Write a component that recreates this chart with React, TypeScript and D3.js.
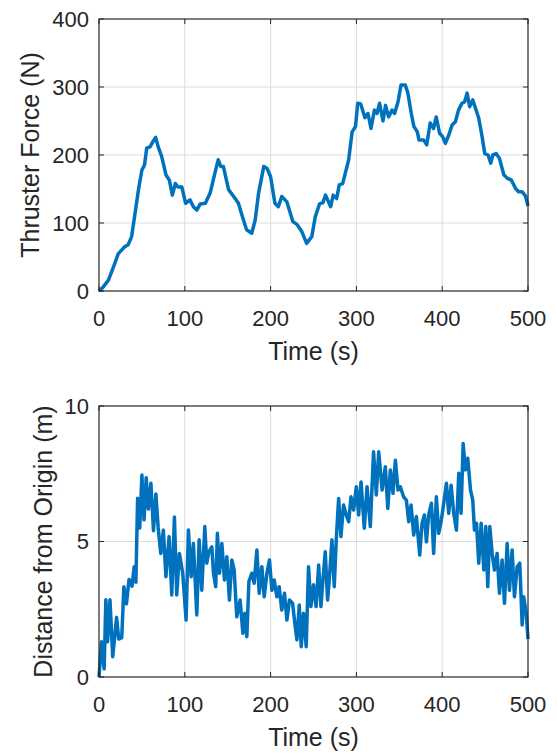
import React from "react";
import * as d3 from "d3";

// thruster force (N)
const forceTime = [0, 1, 5, 11, 17, 22.5, 30, 34, 38, 42, 46, 50, 53, 55.6, 59.5, 63, 66, 69, 73, 78, 82, 85.5, 89, 92, 96.5, 101, 106, 110, 114, 118, 124, 129.5, 135, 139, 142, 145, 151, 157, 162.5, 167, 172, 178, 182, 186, 192, 196, 200, 205, 209, 213, 219, 226, 230.7, 236.5, 242, 248, 252, 257, 261, 264, 270, 273, 277, 280, 284, 287, 291, 295, 299, 301.5, 305, 310, 313.5, 317, 321, 324, 327, 331, 334, 337.5, 341.5, 344.5, 348.5, 352, 357, 360, 364, 367, 371, 373, 378.5, 382, 386, 390, 393, 397, 400.5, 403.7, 407.6, 411.5, 415.4, 419, 423, 426, 429, 432, 435.6, 439.5, 442.6, 446.5, 449.6, 453.5, 456.6, 459, 463, 466.7, 471.8, 475.7, 480.7, 485.4, 489, 493, 497, 500];
const force = [0, 1, 6, 16, 36, 55, 65, 68, 80, 114, 149, 178, 185, 210, 212, 220, 226, 212, 198, 171, 163, 141, 158, 153, 153, 129, 134, 124, 119, 128, 129, 144, 173, 193, 183, 183, 149, 139, 129, 110, 90, 85, 104, 144, 183, 180, 168, 129, 124, 139, 131, 102, 98, 87, 70, 80, 109, 128, 130, 141, 124, 141, 136, 156, 158, 173, 193, 234, 242, 276, 275, 255, 261, 239, 266, 261, 276, 250, 273, 256, 266, 261, 278, 303, 303, 291, 261, 242, 234, 222, 222, 215, 247, 239, 256, 232, 227, 217, 229, 244, 249, 266, 276, 278, 291, 271, 281, 266, 254, 227, 202, 200, 188, 200, 202, 195, 171, 166, 163, 151, 146, 146, 140, 125];

// distance from origin (m)
const distTime = [0, 3, 6, 8, 10, 12.8, 16, 20.5, 23, 26.5, 29, 32, 35, 38.5, 41, 43, 45, 47.5, 50, 52.5, 55, 57.5, 60.5, 63.5, 66.3, 69, 72, 75, 78, 81.7, 84.8, 87.9, 90.6, 93.7, 97.6, 101.5, 104.2, 107.4, 110, 114, 116.7, 119.8, 123.3, 125.6, 128, 131.5, 133.4, 136, 138, 140.4, 143.2, 146.2, 149, 152, 154.8, 157.5, 160.6, 164.5, 167.7, 170, 172.3, 174.7, 178.2, 180.9, 184, 186.7, 189.8, 192.5, 195.7, 198.7, 201.5, 204.2, 207.3, 210, 213, 216.2, 219, 222, 225.6, 228.7, 230.7, 233.4, 235.7, 238.4, 241.5, 244.2, 247, 250, 253, 256, 258.7, 261, 263.7, 266.4, 268.8, 271.5, 274.2, 276.5, 279.3, 282, 285, 288.2, 291, 293.7, 296.8, 299.9, 302.6, 305.4, 309.2, 312.4, 316.2, 320, 323.2, 326, 330, 333.7, 336.6, 339.6, 342.7, 345.4, 348.5, 351.2, 355, 358.2, 361, 363.7, 366.8, 369.9, 373.8, 376.5, 379.2, 381.6, 384.2, 387.4, 390, 393.2, 395.9, 399, 401.8, 404.9, 407.6, 410.4, 413.4, 416.6, 419.3, 422, 424.4, 427, 429.8, 433, 435.6, 437.6, 440, 442.6, 445.4, 448.5, 450.8, 453.1, 455.5, 458.2, 460.9, 464, 466.7, 469.8, 472.6, 475.7, 478.4, 481.5, 484.2, 487.4, 490.4, 493.2, 495, 497.9, 500];
const dist = [0, 1.3, 0.3, 2.85, 1.3, 2.85, 0.75, 2.2, 1.4, 1.45, 3.33, 2.7, 3.6, 3.35, 4.07, 3.5, 6.6, 5.5, 7.45, 5.8, 7.35, 6.2, 7.15, 5.4, 6.75, 5.5, 4.56, 5.42, 3.7, 5.18, 3.03, 5.9, 3.03, 4.56, 3.83, 2.1, 5.42, 3.7, 4.93, 2.29, 5.06, 3.2, 5.55, 4.2, 4.62, 4.8, 3.83, 3.33, 5.3, 3.83, 4.93, 3.58, 4.44, 2.84, 4.32, 3.95, 2.22, 2.84, 1.61, 2.35, 1.49, 3.52, 3.83, 3.46, 4.69, 3.09, 4.07, 2.96, 3.83, 4.32, 3.2, 3.58, 2.96, 3.33, 2.47, 3.09, 2.1, 2.84, 2.72, 1.86, 1.37, 2.66, 1.12, 2.35, 1.12, 4.07, 2.6, 3.4, 2.6, 4.13, 2.6, 3.58, 4.62, 2.84, 3.76, 5.06, 3.33, 5.06, 6.59, 5.18, 6.35, 5.98, 5.73, 6.65, 6.16, 7.02, 5.98, 7.2, 5.49, 7.02, 5.55, 8.31, 6.72, 8.31, 6.9, 7.76, 6.22, 7.64, 6.78, 8.0, 6.9, 7.02, 6.65, 6.53, 5.73, 6.35, 5.24, 5.92, 4.5, 5.67, 5.98, 4.99, 5.98, 6.41, 4.56, 6.65, 5.3, 5.79, 6.41, 7.15, 6.04, 7.08, 6.04, 5.42, 7.52, 6.04, 8.62, 7.64, 8.07, 6.9, 6.53, 5.42, 5.67, 4.2, 5.67, 3.95, 5.55, 3.33, 5.55, 4.56, 3.95, 4.56, 3.09, 4.32, 2.72, 4.93, 3.2, 4.69, 2.96, 4.07, 4.2, 1.92, 2.96, 2.35, 1.4];

const xTicks = [0, 100, 200, 300, 400, 500];
const forceTicks = [0, 100, 200, 300, 400];
const distTicks = [0, 5, 10];

const FONT = "'Liberation Sans', Arial, Helvetica, sans-serif";
const INK = "#262626";
const BLUE = "#0072BD";

function Panel({ t, v, yMax, yTicks, ylabel, top, bottom, ylabelX }) {
  const left = 99;
  const right = 528;
  const x = d3.scaleLinear().domain([0, 500]).range([left, right]);
  const y = d3.scaleLinear().domain([0, yMax]).range([bottom, top]);
  const line = d3
    .line<number>()
    .x((_, i) => x(t[i]))
    .y((d) => y(d));
  const tick = 5;
  const midY = (top + bottom) / 2;

  return (
    <g>
      {/* grid */}
      {xTicks.slice(1, -1).map((d) => (
        <line key={"gx" + d} x1={x(d)} x2={x(d)} y1={top} y2={bottom} stroke="#dcdcdc" strokeWidth={1} />
      ))}
      {yTicks.slice(1, -1).map((d) => (
        <line key={"gy" + d} x1={left} x2={right} y1={y(d)} y2={y(d)} stroke="#dcdcdc" strokeWidth={1} />
      ))}

      <path d={line(v) || ""} fill="none" stroke={BLUE} strokeWidth={3.5} strokeLinejoin="round" />

      {/* box + inward ticks */}
      <rect x={left} y={top} width={right - left} height={bottom - top} fill="none" stroke={INK} strokeWidth={1.2} />
      {xTicks.map((d) => (
        <g key={"tx" + d}>
          <line x1={x(d)} x2={x(d)} y1={bottom} y2={bottom - tick} stroke={INK} />
          <line x1={x(d)} x2={x(d)} y1={top} y2={top + tick} stroke={INK} />
          <text x={x(d)} y={bottom + 27} textAnchor="middle" dominantBaseline="central" fontSize={22} fill={INK}>
            {d}
          </text>
        </g>
      ))}
      {yTicks.map((d) => (
        <g key={"ty" + d}>
          <line x1={left} x2={left + tick} y1={y(d)} y2={y(d)} stroke={INK} />
          <line x1={right} x2={right - tick} y1={y(d)} y2={y(d)} stroke={INK} />
          <text x={left - 10} y={y(d)} textAnchor="end" dominantBaseline="central" fontSize={22} fill={INK}>
            {d}
          </text>
        </g>
      ))}

      <text x={(left + right) / 2} y={bottom + 60} textAnchor="middle" dominantBaseline="central" fontSize={25} fill={INK}>
        Time (s)
      </text>
      <text
        transform={`translate(${ylabelX},${midY}) rotate(-90)`}
        textAnchor="middle"
        dominantBaseline="central"
        fontSize={25}
        fill={INK}
      >
        {ylabel}
      </text>
    </g>
  );
}

export default function App() {
  return (
    <svg
      width={557}
      height={753}
      style={{ position: "absolute", left: 0, top: 0, background: "#fff" }}
      fontFamily={FONT}
    >
      <rect width={557} height={753} fill="#fff" />
      <Panel t={forceTime} v={force} yMax={400} yTicks={forceTicks} ylabel="Thruster Force (N)" top={19} bottom={291} ylabelX={30} />
      <Panel t={distTime} v={dist} yMax={10} yTicks={distTicks} ylabel="Distance from Origin (m)" top={406} bottom={677} ylabelX={43} />
    </svg>
  );
}
